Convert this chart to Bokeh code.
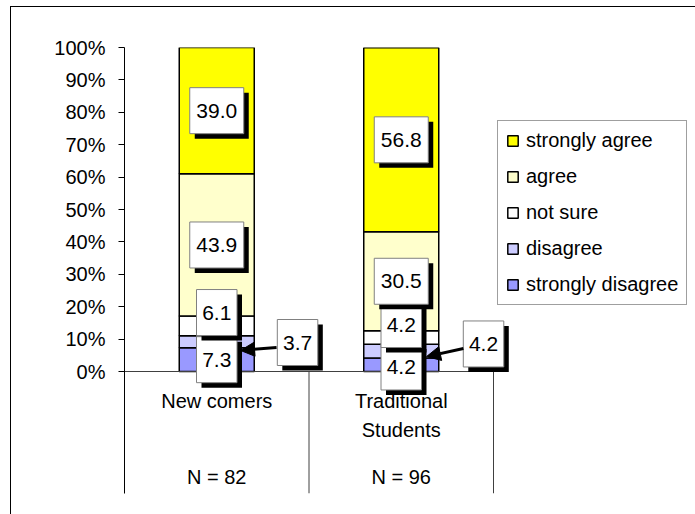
from bokeh.plotting import figure
from bokeh.models import (Range1d, FixedTicker, PrintfTickFormatter, Legend, LegendItem,
                          Arrow, NormalHead, ColumnDataSource, InlineStyleSheet)
from bokeh.core.properties import value
from bokeh.embed import file_html
from bokeh.resources import INLINE

# ---------------- data ----------------
categories = ["New comers", "Traditional\nStudents"]
group_sizes = ["N = 82", "N = 96"]
series = ["strongly disagree", "disagree", "not sure", "agree", "strongly agree"]
strongly_disagree = [7.3, 4.2]
disagree = [3.7, 4.2]
not_sure = [6.1, 4.2]
agree = [43.9, 30.5]
strongly_agree = [39.0, 56.8]
y_ticks = [0, 10, 20, 30, 40, 50, 60, 70, 80, 90, 100]
colors = ["#9999FF", "#CCCCFF", "#FFFFFF", "#FFFFCC", "#FFFF00"]

values = [strongly_disagree, disagree, not_sure, agree, strongly_agree]

# ---------------- layout ----------------
W, H = 695, 514
FRAME_L, FRAME_T, FRAME_B = 124, 47, 493
PX_PER_CAT = 184.5
ZERO_PX = 371
PX_PER_PCT = (ZERO_PX - FRAME_T) / 100.0
X_MAX = (W - FRAME_L) / PX_PER_CAT
Y_MIN = -(FRAME_B - ZERO_PX) / PX_PER_PCT
FONT = "Liberation Sans"

p = figure(width=W, height=H, output_backend="svg", toolbar_location=None,
           x_range=Range1d(0, X_MAX), y_range=Range1d(Y_MIN, 100),
           x_axis_location=None, y_axis_location="left",
           min_border_left=FRAME_L, min_border_top=FRAME_T,
           min_border_bottom=H - FRAME_B, min_border_right=0,
           css_classes=["chart-border"])
p.outline_line_color = None
p.xgrid.visible = False
p.ygrid.visible = False
p.background_fill_color = "white"
p.border_fill_color = "white"

# outer chart border: only the left and top edges fall inside the window
p.stylesheets = [InlineStyleSheet(css=(
    ":host(.chart-border) { position: relative; overflow: hidden; }"
    ":host(.chart-border)::after { content: ''; position: absolute; left: 10px; top: 6px;"
    " right: 0px; bottom: 0px; border-left: 1.5px solid black; border-top: 1.5px solid black;"
    " border-right: none; border-bottom: none; pointer-events: none; }"
))]

ax = p.yaxis[0]
ax.ticker = FixedTicker(ticks=y_ticks)
ax.formatter = PrintfTickFormatter(format="%d%%")
ax.major_tick_out = 6
ax.major_tick_in = 0
ax.minor_tick_out = 0
ax.minor_tick_in = 0
ax.major_label_standoff = 13
ax.major_label_text_font = FONT
ax.major_label_text_font_size = "20px"
ax.major_label_text_color = "black"
ax.axis_line_color = "black"
ax.major_tick_line_color = "black"

xc = [i + 0.5 for i in range(len(categories))]
BAR_W = 75 / PX_PER_CAT

# stacked bars
data = {"x": xc}
for s, v in zip(series, values):
    data[s] = v
src = ColumnDataSource(data)
renderers = p.vbar_stack(series, x="x", width=BAR_W, source=src, color=colors,
                         line_color="black", line_width=1.5)

# baseline and category dividers
p.segment(x0=[0], y0=[0], x1=[len(categories)], y1=[0], line_color="#404040", line_width=1)
p.segment(x0=[i + 1 for i in range(len(categories))], y0=[0] * len(categories),
          x1=[i + 1 for i in range(len(categories))], y1=[Y_MIN] * len(categories),
          line_color="#404040", line_width=1)

# category and N labels
p.text(x=xc, y=[-(389 - ZERO_PX) / PX_PER_PCT] * 2, text=categories,
       text_align="center", text_baseline="top", text_font=value(FONT),
       text_font_size="20px", text_line_height=1.36, text_color="black")
p.text(x=xc, y=[-(476 - ZERO_PX) / PX_PER_PCT] * 2, text=group_sizes,
       text_align="center", text_baseline="middle", text_font=value(FONT),
       text_font_size="20px", text_color="black")

# data label boxes (positions of moved labels given in data units)
overrides = {
    ("not sure", 0): (0.5, 18.2),
    ("disagree", 0): (0.938, 8.95),
    ("not sure", 1): (1.5, 14.5),
    ("strongly disagree", 1): (1.5, 1.4),
    ("disagree", 1): (1.946, 8.5),
}
SHADOW_DX = 5 / PX_PER_CAT
SHADOW_DY = -5 / PX_PER_PCT
bottoms = [0.0] * len(categories)
for s, v in zip(series, values):
    lx, ly, lt, lw = [], [], [], []
    for i, val in enumerate(v):
        pos = overrides.get((s, i), (xc[i], bottoms[i] + val / 2))
        lx.append(pos[0]); ly.append(pos[1])
        t = f"{val:.1f}"
        lt.append(t); lw.append(13.5 * len(t))
        bottoms[i] += val
    ls = ColumnDataSource(dict(x=lx, y=ly, t=lt, w=lw,
                               sx=[a + SHADOW_DX for a in lx], sy=[b + SHADOW_DY for b in ly]))
    p.rect(x="sx", y="sy", width="w", height=46, width_units="screen", height_units="screen",
           source=ls, fill_color="black", line_color=None)
    p.rect(x="x", y="y", width="w", height=46, width_units="screen", height_units="screen",
           source=ls, fill_color="white", line_color="#808080", line_width=1)
    p.text(x="x", y="y", text="t", source=ls, text_align="center", text_baseline="middle",
           text_font=value(FONT), text_font_size="21px", text_color="black")

# leader arrows for the small "disagree" labels
for (x0, y0, x1, y1) in [(0.824, 7.4, 0.629, 6.5), (1.837, 7.1, 1.637, 4.6)]:
    p.add_layout(Arrow(x_start=x0, y_start=y0, x_end=x1, y_end=y1, line_width=3,
                       line_color="black",
                       end=NormalHead(size=14, fill_color="black", line_color="black")))

# legend
items = [LegendItem(label=s, renderers=[r]) for s, r in zip(series, renderers)][::-1]
legend = Legend(items=items, location=(373, 188), label_text_font=FONT,
                label_text_font_size="20px", label_text_color="black",
                glyph_width=13, glyph_height=13,
                label_height=20, spacing=13, padding=8, margin=0, label_standoff=7,
                border_line_color="#404040", border_line_width=1,
                background_fill_color="white", background_fill_alpha=1)
p.add_layout(legend)

open("out.html", "w").write(file_html(p, INLINE))
